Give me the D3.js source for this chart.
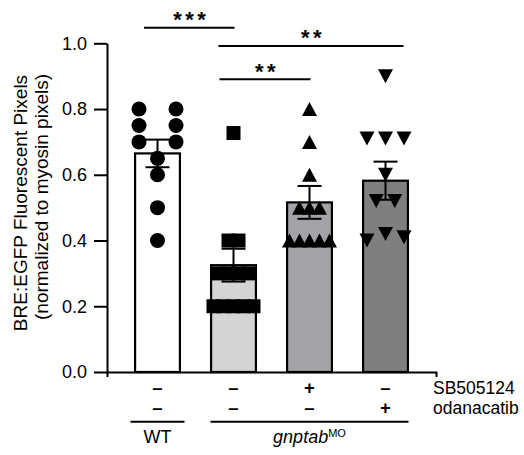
<!DOCTYPE html>
<html>
<head>
<meta charset="utf-8">
<script src="https://cdn.jsdelivr.net/npm/d3@7"></script>
<style>
  html, body { margin: 0; padding: 0; background: #fff; }
  svg { display: block; font-family: "Liberation Sans", Arial, sans-serif; }
</style>
</head>
<body>
<svg id="chart" width="524" height="455"></svg>
<script>
// ---------------- data ----------------
const categories = ["WT", "gnptabMO", "gnptabMO+SB505124", "gnptabMO+odanacatib"];
const means = [0.665, 0.325, 0.516, 0.582];
const sems = [0.042, 0.05, 0.05, 0.058];
const wtPoints = [0.80, 0.80, 0.75, 0.75, 0.70, 0.70, 0.65, 0.60, 0.50, 0.40];
const moPoints = [0.727, 0.40, 0.40, 0.30, 0.30, 0.30, 0.30, 0.20, 0.20, 0.20, 0.20, 0.20];
const sbPoints = [0.80, 0.70, 0.60, 0.50, 0.50, 0.50, 0.40, 0.40, 0.40, 0.40, 0.40];
const odPoints = [0.90, 0.71, 0.71, 0.71, 0.60, 0.52, 0.52, 0.40, 0.42, 0.41];
const yTicks = [0.0, 0.2, 0.4, 0.6, 0.8, 1.0];
const sbRow = ["–", "–", "+", "–"];
const odRow = ["–", "–", "–", "+"];
const rowLabels = ["SB505124", "odanacatib"];
const comparisons = [
  { from: 0, to: 1, y: 1.047, label: "***" },
  { from: 1, to: 3, y: 0.992, label: "**" },
  { from: 1, to: 2, y: 0.891, label: "**" }
];
const groupLabels = [
  { from: 0, to: 0, label: "WT" },
  { from: 1, to: 3, label: "gnptab", sup: "MO" }
];

// ---------------- styles ----------------
const pointSets = [wtPoints, moPoints, sbPoints, odPoints];
const fills = ["#ffffff", "#d4d4d4", "#a4a4a8", "#7f7f7f"];
const shapes = ["circle", "square", "up", "down"];
const spacing = [37, 10, 10, 18.5];
const compExt = [[-13.5, 1], [-15, 18], [-14, 1]];
const groupExt = [[-27, 27], [-23, 23]];

const svg = d3.select("#chart");
const y = d3.scaleLinear().domain([0, 1]).range([372, 43.3]);
const x = d3.scaleBand().domain(categories).range([119.5, 423.5])
  .paddingInner(0.41).paddingOuter(0.205);
const cx = i => x(categories[i]) + x.bandwidth() / 2;

// y axis
const yAxis = svg.append("g").attr("transform", "translate(107,0)")
  .call(d3.axisLeft(y).tickValues(yTicks).tickFormat(d3.format(".1f"))
    .tickSize(13).tickSizeOuter(0).tickPadding(7));
yAxis.selectAll("path, line").attr("stroke", "#000").attr("stroke-width", 2);
yAxis.selectAll("text").attr("font-size", 18).attr("fill", "#000")
  .attr("font-family", "Liberation Sans, Arial, sans-serif");

// x axis
const xLine = d3.scaleLinear().domain([0, 1]).range([107, 436]);
const xAxis = svg.append("g").attr("transform", "translate(0,372)")
  .call(d3.axisBottom(xLine).tickValues([]).tickSizeOuter(5));
xAxis.selectAll("path").attr("stroke", "#000").attr("stroke-width", 2);

// y label
const yLab = ["BRE:EGFP Fluorescent Pixels", "(normalized to myosin pixels)"];
svg.selectAll(".ylab").data(yLab).enter().append("text")
  .attr("class", "ylab")
  .attr("transform", (d, i) => `translate(${i === 0 ? 27 : 48},${i === 0 ? 203 : 197}) rotate(-90)`)
  .attr("text-anchor", "middle").attr("font-size", 19).attr("fill", "#000")
  .text(d => d);

// bars
svg.selectAll(".bar").data(means).enter().append("rect")
  .attr("class", "bar")
  .attr("x", (d, i) => x(categories[i]))
  .attr("width", x.bandwidth())
  .attr("y", d => y(d))
  .attr("height", d => y(0) - y(d))
  .attr("fill", (d, i) => fills[i])
  .attr("stroke", "#000").attr("stroke-width", 2.2);

// error bars
const eb = svg.append("g").attr("stroke", "#000").attr("stroke-width", 2);
means.forEach((m, i) => {
  const c = cx(i);
  eb.append("line").attr("x1", c).attr("x2", c).attr("y1", y(m - sems[i])).attr("y2", y(m + sems[i]));
  [m - sems[i], m + sems[i]].forEach(v => {
    eb.append("line").attr("x1", c - 12).attr("x2", c + 12).attr("y1", y(v)).attr("y2", y(v));
  });
});

// points (rows of equal value spread horizontally)
function layout(vals, sp) {
  const rows = [];
  vals.forEach(v => {
    let r = rows.find(r => Math.abs(r.v - v) < 0.025);
    if (!r) { r = { v, items: [] }; rows.push(r); }
    r.items.push(v);
  });
  const out = [];
  rows.forEach(r => r.items.forEach((v, k) => out.push({ v, dx: (k - (r.items.length - 1) / 2) * sp })));
  return out;
}
function shapePath(kind) {
  if (kind === "square") return "M-7,-7H7V7H-7Z";
  if (kind === "up") return "M0,-7L7.5,7H-7.5Z";
  if (kind === "down") return "M-7.5,-7H7.5L0,7Z";
  return null;
}
pointSets.forEach((pts, i) => {
  const g = svg.append("g");
  const data = layout(pts, spacing[i]);
  if (shapes[i] === "circle") {
    g.selectAll("circle").data(data).enter().append("circle")
      .attr("cx", d => cx(i) + d.dx).attr("cy", d => y(d.v)).attr("r", 7.5).attr("fill", "#000");
  } else {
    g.selectAll("path").data(data).enter().append("path")
      .attr("d", shapePath(shapes[i]))
      .attr("transform", d => `translate(${cx(i) + d.dx},${y(d.v)})`).attr("fill", "#000");
  }
});

// significance
comparisons.forEach((c, k) => {
  const x1 = cx(c.from) + compExt[k][0], x2 = cx(c.to) + compExt[k][1];
  svg.append("line").attr("x1", x1).attr("x2", x2).attr("y1", y(c.y)).attr("y2", y(c.y))
    .attr("stroke", "#000").attr("stroke-width", 2);
  svg.append("text").attr("x", (x1 + x2) / 2 + 2).attr("y", y(c.y) - 0.5)
    .attr("text-anchor", "middle").attr("font-size", 22).attr("font-weight", "bold")
    .attr("letter-spacing", 3.5).attr("fill", "#000").text(c.label);
});

// treatment rows
[sbRow, odRow].forEach((row, r) => {
  svg.selectAll(".row" + r).data(row).enter().append("text")
    .attr("x", (d, i) => cx(i)).attr("y", r === 0 ? 394 : 414)
    .attr("text-anchor", "middle").attr("font-size", 18.5).attr("font-weight", "bold")
    .attr("fill", "#000").text(d => d);
  svg.append("text").attr("x", 433).attr("y", r === 0 ? 394 : 414)
    .attr("font-size", 17.5).attr("fill", "#000").text(rowLabels[r]);
});

// group labels
groupLabels.forEach((gl, k) => {
  const x1 = cx(gl.from) + groupExt[k][0], x2 = cx(gl.to) + groupExt[k][1];
  svg.append("line").attr("x1", x1).attr("x2", x2).attr("y1", 421.7).attr("y2", 421.7)
    .attr("stroke", "#000").attr("stroke-width", 2);
  const t = svg.append("text").attr("x", (x1 + x2) / 2).attr("y", 443)
    .attr("text-anchor", "middle").attr("font-size", 18).attr("fill", "#000");
  if (gl.sup) {
    t.append("tspan").attr("font-style", "italic").text(gl.label);
    t.append("tspan").attr("font-size", 11).attr("dy", -6).text(gl.sup);
  } else {
    t.text(gl.label);
  }
});
</script>
</body>
</html>
